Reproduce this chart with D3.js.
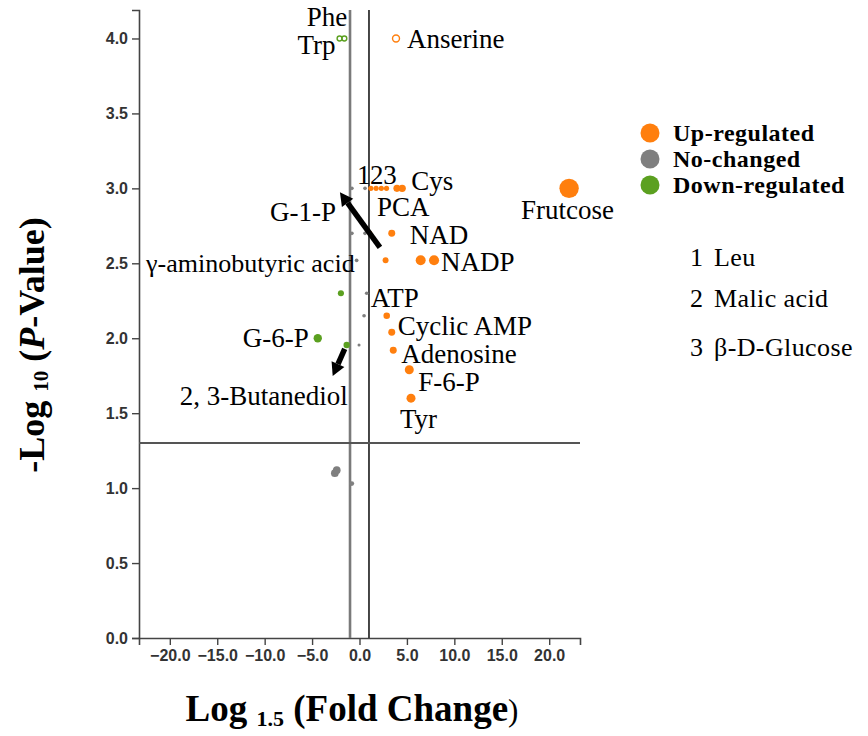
<!DOCTYPE html>
<html><head><meta charset="utf-8">
<script src="https://cdn.jsdelivr.net/npm/d3@7"></script>
<style>body{margin:0;background:#fff;} svg{display:block;}</style>
</head><body><svg id="chart" width="868" height="736"></svg>
<script>
// ---------------- DATA ----------------
const metabolites = ["Phe","Trp","Anserine","Leu","Malic acid","β-D-Glucose","","PCA","Cys","Frutcose",
  "","","NAD","G-1-P","","","","","NADP","γ-aminobutyric acid","","","","ATP","Cyclic AMP","G-6-P",
  "2, 3-Butanediol","","Adenosine","F-6-P","Tyr","","",""];
const log15FC = [-1.6,-2.1,3.85,1.2,1.75,2.3,2.85,3.95,4.5,22.1,
  -0.8,0.58,3.4,1.1,-0.8,0.58,2.75,6.45,7.86,-0.3,-1.96,0.76,0.48,2.87,3.4,-4.4,
  -1.35,-0.05,3.56,5.25,5.43,-2.6,-2.4,-0.82];
const negLog10P = [4.0,4.0,4.0,3.0,3.0,3.0,3.0,3.0,3.0,3.0,
  3.0,3.0,2.70,2.70,2.70,2.70,2.52,2.52,2.52,2.52,2.30,2.30,2.15,2.15,2.04,2.0,
  1.955,1.955,1.92,1.79,1.60,1.10,1.12,1.03];
const regulation = ["down","down","up","up","up","up","up","up","up","up",
  "none","none","up","up","none","none","up","up","up","none","down","none","none","up","up","down",
  "down","none","up","up","up","none","none","none"];
const importance = [0.9,0.9,1.8,1.0,1.0,1.0,1.0,1.9,2.0,14,
  0.5,0.5,1.8,0.9,0.5,0.5,1.3,3.7,3.8,0.5,1.4,0.5,0.5,1.6,1.8,2.6,
  1.5,0.35,1.8,3.0,3.0,2.2,2.2,0.9];
const capped = [true,true,true,false,false,false,false,false,false,false,
  false,false,false,false,false,false,false,false,false,false,false,false,false,false,false,false,
  false,false,false,false,false,false,false,false];
const xTicks = [-20,-15,-10,-5,0,5,10,15,20];
const yTicks = [0,0.5,1,1.5,2,2.5,3,3.5,4];
const legendKeys = ["up","none","down"];
const legendLabels = ["Up-regulated","No-changed","Down-regulated"];
const noteNumbers = ["1","2","3"];
const noteNames = ["Leu","Malic acid","β-D-Glucose"];
const fcCutoff = 1;
const pCutoff = -Math.log10(0.05);

// ---------------- LAYOUT ----------------
const svg = d3.select("#chart");
const x = d3.scaleLinear().domain([-23.25, 23.25]).range([139, 580]);
const y = d3.scaleLinear().domain([0, 4.19]).range([638, 10]);
const r = d3.scaleSqrt().domain([0, 14]).range([0, 9.7]);
const color = d3.scaleOrdinal().domain(["up","none","down"]).range(["#ff7f0e","#7f7f7f","#5ba020"]);
const serif = "'Liberation Serif','Times New Roman',serif";
const sans = "'Liberation Sans',Arial,sans-serif";

// axes
const yAxis = svg.append("g").attr("transform","translate(139,0)")
  .call(d3.axisLeft(y).tickValues(yTicks).tickFormat(d3.format(".1f")).tickSizeOuter(0).tickSize(7).tickPadding(4));
const xAxis = svg.append("g").attr("transform","translate(0,638)")
  .call(d3.axisBottom(x).tickValues(xTicks).tickFormat(d3.format(".1f")).tickSizeOuter(0).tickSize(7).tickPadding(5));
[yAxis,xAxis].forEach(a=>{
  a.select(".domain").attr("stroke","#444").attr("stroke-width",1.6);
  a.selectAll(".tick line").attr("stroke","#444").attr("stroke-width",1.4);
  a.selectAll("text").attr("fill","#333").style("font-family",sans).style("font-size","16px").style("font-weight","bold");
});

// threshold lines
svg.append("line").attr("x1",x(-fcCutoff)).attr("x2",x(-fcCutoff)).attr("y1",y(4.19)).attr("y2",y(0))
  .attr("stroke","#7a7a7a").attr("stroke-width",2.6);
svg.append("line").attr("x1",x(fcCutoff)).attr("x2",x(fcCutoff)).attr("y1",y(4.19)).attr("y2",y(0))
  .attr("stroke","#333").attr("stroke-width",1.8);
svg.append("line").attr("x1",x(-23.25)).attr("x2",x(23.25)).attr("y1",y(pCutoff)).attr("y2",y(pCutoff))
  .attr("stroke","#555").attr("stroke-width",1.8);

// points
const pts = metabolites.map((m,i)=>({name:m, fc:log15FC[i], p:negLog10P[i], reg:regulation[i], imp:importance[i], cap:capped[i]}));
svg.append("g").selectAll("circle").data(pts).join("circle")
  .attr("cx",d=>x(d.fc)).attr("cy",d=>y(d.p)).attr("r",d=>r(d.imp))
  .attr("fill",d=>d.cap?"none":color(d.reg))
  .attr("stroke",d=>d.cap?color(d.reg):"none")
  .attr("stroke-width",d=>d.cap?1.4:0);

// labels (anchor, dx, dy in px relative to point, font size)
const labelLayout = {
  "Phe":["end",3,-12,27], "Trp":["end",-4,16,27], "Anserine":["start",11,10,27],
  "Cys":["start",9,2,27], "PCA":["start",-20,28,27], "Frutcose":["start",-48,31,27],
  "NAD":["start",18,11,27], "G-1-P":["end",-34,-12,27], "NADP":["start",7,11,27],
  "γ-aminobutyric acid":["end",-2,12,26], "ATP":["start",-16,-9,27], "Cyclic AMP":["start",6,3,27],
  "G-6-P":["end",-9,9,27], "2, 3-Butanediol":["end",1,60,27], "Adenosine":["start",8,13,27],
  "F-6-P":["start",9,21,27], "Tyr":["start",-11,30,27]
};
const gl = svg.append("g").style("font-family",serif).style("font-size","27px").attr("fill","#000");
pts.forEach(d=>{
  const L = labelLayout[d.name];
  if(!L) return;
  gl.append("text").attr("x",x(d.fc)+L[1]).attr("y",y(d.p)+L[2]).attr("text-anchor",L[0])
    .style("font-size",L[3]+"px").text(d.name);
});
// numbered markers 1,2,3 above Leu, Malic acid, Glucose
const numDx = [-14,-6,2];
noteNames.forEach((n,i)=>{
  const d = pts.find(p=>p.name===n);
  gl.append("text").attr("x",x(d.fc)+numDx[i]).attr("y",y(d.p)-4).text(noteNumbers[i]);
});

// arrows
function arrow(x1,y1,x2,y2){
  const ang = Math.atan2(y2-y1,x2-x1), hl=13, hw=7;
  const bx = x2-hl*Math.cos(ang), by = y2-hl*Math.sin(ang);
  svg.append("line").attr("x1",x1).attr("y1",y1).attr("x2",bx).attr("y2",by)
    .attr("stroke","#000").attr("stroke-width",5.5);
  const px=-Math.sin(ang), py=Math.cos(ang);
  svg.append("path").attr("d",`M${x2},${y2}L${bx+px*hw},${by+py*hw}L${bx-px*hw},${by-py*hw}Z`).attr("fill","#000");
}
const g1p = pts.find(p=>p.name==="G-1-P");
arrow(x(g1p.fc)+10,y(g1p.p)+14,x(g1p.fc)-30,y(g1p.p)-41);
const but = pts.find(p=>p.name==="2, 3-Butanediol");
arrow(x(but.fc)-2,y(but.p)+4,x(but.fc)-14,y(but.p)+31);

// legend
const lg = svg.append("g");
legendKeys.forEach((k,i)=>{
  lg.append("circle").attr("cx",650).attr("cy",133+26*i).attr("r",9.5).attr("fill",color(k));
  lg.append("text").attr("x",673).attr("y",141+26*i).text(legendLabels[i])
    .style("font-family",serif).style("font-size","24px").style("font-weight","bold").style("letter-spacing","0.5px");
});

// notes
const ng = svg.append("g").style("font-family",serif).style("font-size","26px");
const noteY = [266,307,356];
noteNames.forEach((n,i)=>{
  ng.append("text").attr("x",690).attr("y",noteY[i]).text(noteNumbers[i]);
  ng.append("text").attr("x",714).attr("y",noteY[i]).text(n).style("letter-spacing","0.4px");
});

// axis titles
const xt = svg.append("text").attr("x",352).attr("y",721).attr("text-anchor","middle")
  .style("font-family",serif).style("font-size","37px").style("font-weight","bold");
xt.append("tspan").text("Log ");
xt.append("tspan").text("1.5").style("font-size","22px").attr("dy",5);
xt.append("tspan").text(" (Fold Change").attr("dy",-5);
xt.append("tspan").text(")").style("font-weight","normal").style("font-size","31px");

const yt = svg.append("text").attr("transform","translate(44,345) rotate(-90)").attr("text-anchor","middle")
  .style("font-family",serif).style("font-size","36px").style("font-weight","bold");
yt.append("tspan").text("-Log ");
yt.append("tspan").text("10").style("font-size","21px").attr("dy",4);
yt.append("tspan").text(" (").attr("dy",-4);
yt.append("tspan").text("P").style("font-style","italic");
yt.append("tspan").text("-Value)");
</script></body></html>
